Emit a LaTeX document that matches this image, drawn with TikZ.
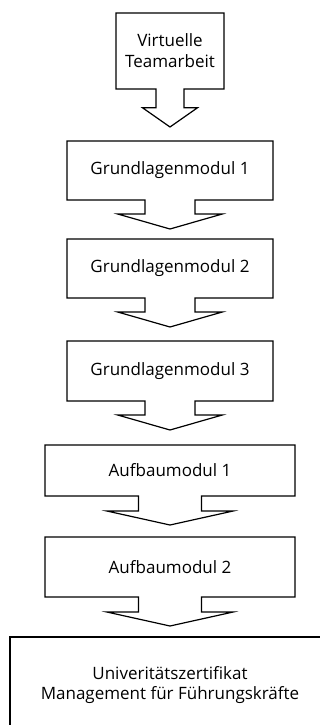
\documentclass[tikz,border=0pt]{standalone}
\usepackage{fontspec}
\setmainfont{Open Sans}
\usepackage{tikz}
\usetikzlibrary{shapes.arrows, positioning}

\begin{document}
\begin{tikzpicture}[
  x=1pt, y=-1pt,
  modbox/.style={arrow box, draw=black, fill=white, line width=1.2pt,
                 align=center, inner sep=2pt, outer sep=0pt,
                 font=\fontsize{17}{21}\selectfont,
                 arrow box north arrow=-1pt, arrow box east arrow=-1pt,
                 arrow box west arrow=-1pt},
  startbox/.style={modbox, minimum width=108pt, minimum height=76pt,
                   arrow box shaft width=28pt, arrow box head extend=13.5pt,
                   arrow box tip angle=110, arrow box south arrow=38pt},
  gmbox/.style={modbox, minimum width=206pt, minimum height=59pt,
                arrow box shaft width=50pt, arrow box head extend=27pt,
                arrow box tip angle=148, arrow box south arrow=29pt},
  ambox/.style={modbox, minimum width=250pt,
                arrow box shaft width=63pt, arrow box head extend=31.5pt,
                arrow box tip angle=155, arrow box south arrow=29pt},
  endbox/.style={rectangle, draw=black, line width=1.2pt, align=center,
                 outer sep=0pt, minimum width=320pt, minimum height=96pt,
                 font=\fontsize{17}{20}\selectfont}
]
\clip (0,0) rectangle (320,725);
%% Start
\node[startbox] (virt) at (170,51) {Virtuelle\\Teamarbeit};
%% Grundlagenmodule
\node[gmbox, below=14pt of virt.south arrow tip] (gm1) {Grundlagenmodul 1};
\node[gmbox, below=10pt of gm1.south arrow tip] (gm2) {Grundlagenmodul 2};
\node[gmbox, minimum height=60pt, below=14pt of gm2.south arrow tip] (gm3) {Grundlagenmodul 3};
%% Aufbaumodule
\node[ambox, minimum height=51pt, below=15pt of gm3.south arrow tip] (am1) {Aufbaumodul 1};
\node[ambox, minimum height=60pt, below=12pt of am1.south arrow tip] (am2) {Aufbaumodul 2};
%% Abschluss
\node[endbox, below=11pt of am2.south arrow tip] (zert)
  {Univeritätszertifikat\\Management für Führungskräfte};
\end{tikzpicture}
\end{document}
